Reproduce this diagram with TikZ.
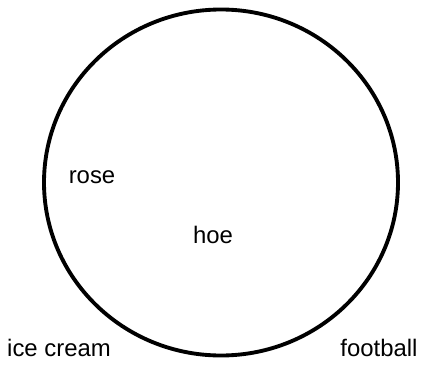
\documentclass[tikz,border=0pt]{standalone}
\usepackage{fontspec}
\setmainfont{Liberation Sans}
\usetikzlibrary{calc}

\begin{document}
\begin{tikzpicture}[x=0.02cm,y=-0.02cm,
    word/.style={anchor=base,inner sep=0pt,font=\fontsize{13.6}{16}\selectfont}]
  % 画布（像素坐标，y 向下）
  \useasboundingbox (0,0) rectangle (422,365);
  % 大圆
  \coordinate (O) at (221,182.5);
  \draw[line width=2.2pt] (O) ellipse[x radius=177, y radius=173];
  % 圆内的词
  \node[word] (rose) at (92,183) {rose};
  \node[word] (hoe) at (213,243) {hoe};
  % 圆外的词（下方两角）
  \node[word] (icecream) at (59,356) {ice cream};
  \node[word] (football) at (379,356) {football};
\end{tikzpicture}
\end{document}
